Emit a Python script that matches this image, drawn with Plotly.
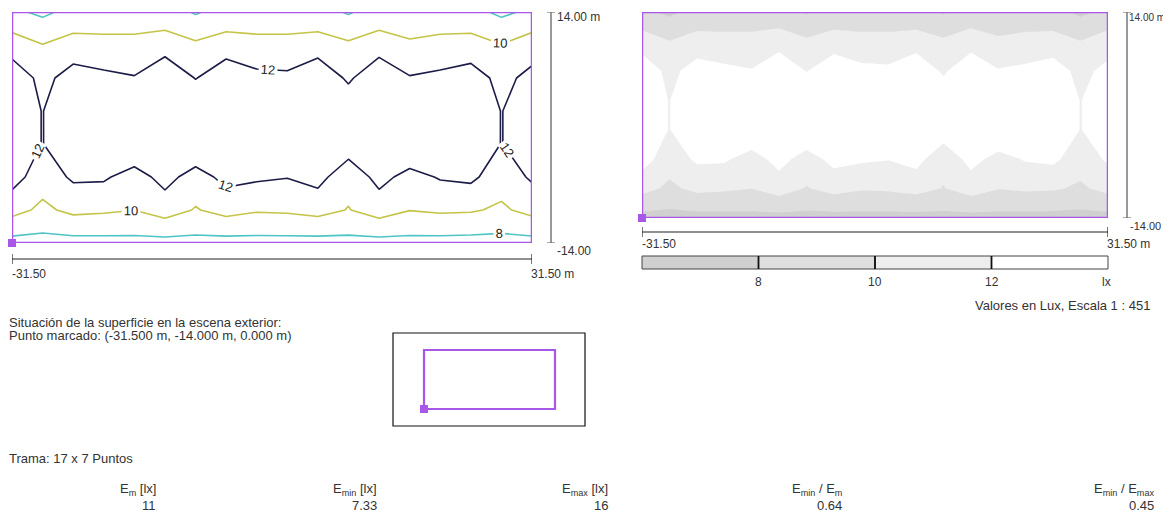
import plotly.graph_objects as go

W, H = 1171, 513
OFF = 8                      # default page margin of the browser
FW, FH = W - OFF, H - OFF    # figure size so that it ends exactly at the window edge

# ---------------- data ----------------
X_GRID = [-31.5, -27.79, -24.09, -20.38, -16.68, -12.97, -9.26, -5.56, -1.85,
          1.85, 5.56, 9.26, 12.97, 16.68, 20.38, 24.09, 27.79, 31.5]
Y_GRID = [-14, -10, -6, -2, 2, 6, 10, 14]

ROW_M14 = [7.30, 7.30, 7.30, 7.35, 7.40, 7.35, 7.40, 7.30, 7.35, 7.35, 7.30, 7.40, 7.35, 7.40, 7.35, 7.30, 7.30, 7.30]
ROW_M10 = [10.66, 9.60, 10.47, 10.29, 10.02, 10.89, 9.87, 10.66, 10.19, 10.29, 10.66, 9.92, 10.89, 10.05, 10.29, 10.20, 9.70, 10.60]
ROW_M6 = [12.87, 10.85, 12.32, 12.28, 11.10, 12.72, 11.10, 12.61, 12.30, 12.07, 12.70, 10.60, 12.66, 11.30, 12.17, 12.43, 10.85, 12.29]
ROW_M2 = [13.00, 11.95, 13.50, 13.90, 14.00, 15.30, 14.00, 15.00, 14.40, 14.40, 15.00, 13.20, 15.40, 14.00, 13.90, 13.50, 11.95, 13.00]
ROW_P2 = [13.00, 11.95, 13.60, 14.00, 14.30, 15.60, 14.20, 15.20, 14.50, 14.50, 15.20, 13.80, 16.00, 14.30, 14.00, 13.60, 11.95, 13.00]
ROW_P6 = [13.39, 11.40, 12.89, 12.44, 12.10, 14.15, 11.90, 13.62, 12.49, 12.37, 13.83, 11.60, 13.97, 12.13, 12.44, 12.97, 11.40, 12.61]
ROW_P10 = [10.97, 10.06, 10.78, 10.63, 10.73, 10.81, 10.32, 10.80, 10.68, 10.68, 10.80, 10.32, 10.81, 10.33, 10.63, 10.78, 10.06, 10.97]
ROW_P14 = [8.40, 7.60, 8.60, 8.70, 8.50, 9.00, 7.80, 8.80, 8.60, 8.60, 8.80, 7.80, 9.00, 8.50, 8.70, 8.60, 7.60, 8.40]

ISO_LEVELS = [8, 10, 12]
LEGEND_LABELS = ["8", "10", "12", "lx"]
STAT_HEADERS = ["E<sub>m</sub> [lx]", "E<sub>min</sub> [lx]", "E<sub>max</sub> [lx]",
                "E<sub>min</sub> / E<sub>m</sub>", "E<sub>min</sub> / E<sub>max</sub>"]
STAT_VALUES = ["11", "7.33", "16", "0.64", "0.45"]

Z = [ROW_M14, ROW_M10, ROW_M6, ROW_M2, ROW_P2, ROW_P6, ROW_P10, ROW_P14]

# ---------------- style ----------------
PURPLE = "#a957e6"
TXT = "#333333"
FONT = "Liberation Sans, Arial, sans-serif"
GRAYS = ["#d0d0d0", "#dedede", "#eeeeee", "#ffffff"]
FS = 13      # body text size
FS_AX = 12   # scale label size


def X(px):
    return (px - OFF) / FW


def Y(py):
    return 1 - (py - OFF) / FH


fig = go.Figure()

# left: isolines
fig.add_trace(go.Contour(
    x=X_GRID, y=Y_GRID, z=Z, xaxis="x", yaxis="y",
    autocontour=False,
    contours=dict(start=ISO_LEVELS[0], end=ISO_LEVELS[-1], size=2, coloring="lines",
                  showlabels=True,
                  labelfont=dict(family=FONT, size=13, color="#222222")),
    colorscale=[[0, "#4fc4c4"], [0.5, "#c4c448"], [1, "#1c1c48"]],
    line=dict(width=1.6, smoothing=0),
    showscale=False, hoverinfo="skip",
))

# right: filled grey scale
fig.add_trace(go.Contour(
    x=X_GRID, y=Y_GRID, z=Z, xaxis="x2", yaxis="y2",
    autocontour=False,
    contours=dict(start=ISO_LEVELS[0], end=ISO_LEVELS[-1], size=2, coloring="fill",
                  showlines=False),
    colorscale=[[0, GRAYS[0]], [1 / 6, GRAYS[0]], [1 / 6, GRAYS[1]], [0.5, GRAYS[1]],
                [0.5, GRAYS[2]], [5 / 6, GRAYS[2]], [5 / 6, GRAYS[3]], [1, GRAYS[3]]],
    line=dict(width=0, smoothing=0),
    showscale=False, hoverinfo="skip",
))

# marked points
for xa, ya in (("x", "y"), ("x2", "y2")):
    fig.add_trace(go.Scatter(x=[X_GRID[0]], y=[Y_GRID[0]], xaxis=xa, yaxis=ya,
                             mode="markers", marker=dict(symbol="square", size=8, color=PURPLE),
                             cliponaxis=False, hoverinfo="skip", showlegend=False))

shapes = []
annotations = []


def ann(text, px, py, xanchor="left", yanchor="middle", size=FS, color=TXT):
    annotations.append(dict(text=text, x=X(px), y=Y(py), xref="paper", yref="paper",
                            xanchor=xanchor, yanchor=yanchor, showarrow=False,
                            borderpad=0,
                            font=dict(family=FONT, size=size, color=color)))


# borders
for xr, yr in (("x", "y"), ("x2", "y2")):
    shapes.append(dict(type="rect", xref=xr, yref=yr, x0=X_GRID[0], x1=X_GRID[-1],
                       y0=Y_GRID[0], y1=Y_GRID[-1], line=dict(color=PURPLE, width=2.5)))


def hscale(xr, py):
    shapes.append(dict(type="line", xref=xr, yref="paper", x0=X_GRID[0], x1=X_GRID[-1],
                       y0=Y(py), y1=Y(py), line=dict(color="#222222", width=1.2)))
    for xv in (X_GRID[0], X_GRID[-1]):
        shapes.append(dict(type="line", xref=xr, yref="paper", x0=xv, x1=xv,
                           y0=Y(py - 5), y1=Y(py + 5), line=dict(color="#222222", width=1.2)))


def vscale(yr, px):
    shapes.append(dict(type="line", xref="paper", yref=yr, x0=X(px), x1=X(px),
                       y0=Y_GRID[0], y1=Y_GRID[-1], line=dict(color="#777777", width=1.5)))
    for yv in (Y_GRID[0], Y_GRID[-1]):
        shapes.append(dict(type="line", xref="paper", yref=yr, x0=X(px - 4), x1=X(px + 4),
                           y0=yv, y1=yv, line=dict(color="#777777", width=1.2)))


# left scales
hscale("x", 259)
vscale("y", 551)
ann("-31.50", 11, 274, size=FS_AX)
ann("31.50 m", 530, 274, size=FS_AX)
ann("14.00 m", 556, 17, size=FS_AX)
ann("-14.00", 556, 251, size=FS_AX)

# right scales
hscale("x2", 232)
vscale("y2", 1127)
ann("-31.50", 641, 244, size=FS_AX)
ann("31.50 m", 1106, 244, size=FS_AX)
ann("14.00 m", 1128, 17, size=10)
ann("-14.00", 1129, 226, size=11)

# legend bar
bx0, bx1, by0, by1 = 642, 1108, 256, 269
seg = (bx1 - bx0) / 4
for i, c in enumerate(GRAYS):
    shapes.append(dict(type="rect", xref="paper", yref="paper",
                       x0=X(bx0 + i * seg), x1=X(bx0 + (i + 1) * seg), y0=Y(by1), y1=Y(by0),
                       fillcolor=c, line=dict(color="#444444", width=1)))
for i in range(1, 4):
    shapes.append(dict(type="line", xref="paper", yref="paper",
                       x0=X(bx0 + i * seg), x1=X(bx0 + i * seg), y0=Y(by1), y1=Y(by0),
                       line=dict(color="#111111", width=1.8)))
for i, lab in enumerate(LEGEND_LABELS):
    if i < 3:
        ann(lab, bx0 + (i + 1) * seg, 282, xanchor="center", size=FS_AX)
    else:
        ann(lab, 1106, 282, xanchor="center", size=FS_AX)
ann("Valores en Lux, Escala 1 : 451", 1151, 305, xanchor="right")

# situation text
ann("Situación de la superficie en la escena exterior:", 8, 322)
ann("Punto marcado: (-31.500 m, -14.000 m, 0.000 m)", 8, 335)

# location map
shapes.append(dict(type="rect", xref="paper", yref="paper", x0=X(393), x1=X(585),
                   y0=Y(426), y1=Y(333), line=dict(color="#111111", width=1.2)))
shapes.append(dict(type="rect", xref="paper", yref="paper", x0=X(424), x1=X(555),
                   y0=Y(409), y1=Y(350), line=dict(color=PURPLE, width=2.2)))
shapes.append(dict(type="rect", xref="paper", yref="paper", x0=X(420), x1=X(428),
                   y0=Y(413), y1=Y(405), fillcolor=PURPLE, line=dict(width=0)))

ann("Trama: 17 x 7 Puntos", 8, 458)

stat_right = [157, 378, 609, 843, 1155]
for hdr, val, rx in zip(STAT_HEADERS, STAT_VALUES, stat_right):
    ann(hdr, rx, 489, xanchor="right")
    ann(val, rx, 505, xanchor="right")

fig.update_layout(
    width=FW, height=FH, autosize=False,
    margin=dict(l=0, r=0, t=0, b=0),
    paper_bgcolor="white", plot_bgcolor="white",
    showlegend=False,
    font=dict(family=FONT, size=FS, color=TXT),
    xaxis=dict(domain=[X(12), X(532)], range=[X_GRID[0], X_GRID[-1]], visible=False,
               fixedrange=True, anchor="y"),
    yaxis=dict(domain=[Y(243), Y(12)], range=[Y_GRID[0], Y_GRID[-1]], visible=False,
               fixedrange=True, anchor="x"),
    xaxis2=dict(domain=[X(642), X(1108)], range=[X_GRID[0], X_GRID[-1]], visible=False,
                fixedrange=True, anchor="y2"),
    yaxis2=dict(domain=[Y(218), Y(12)], range=[Y_GRID[0], Y_GRID[-1]], visible=False,
                fixedrange=True, anchor="x2"),
    shapes=shapes,
    annotations=annotations,
)

fig.write_html("out.html", config=dict(displayModeBar=False))
